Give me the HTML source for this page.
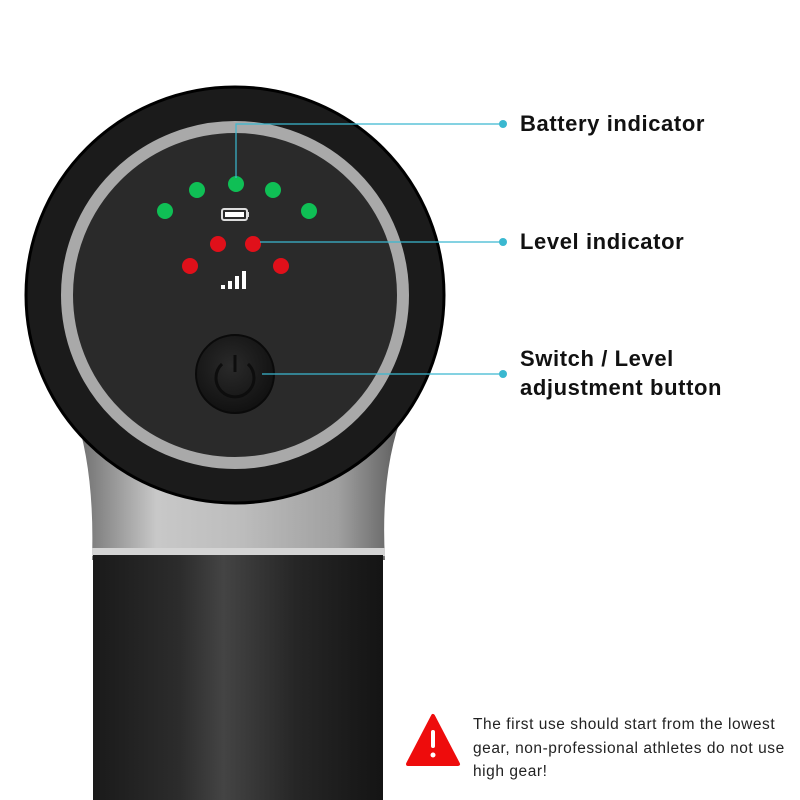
<!DOCTYPE html>
<html><head><style>
body{margin:0;width:800px;height:800px;background:#fff;overflow:hidden;position:relative;font-family:"Liberation Sans",sans-serif}
.lbl{position:absolute;left:520px;font-weight:bold;font-size:22px;letter-spacing:0.6px;color:#111;line-height:29px}
.note{position:absolute;left:473px;top:713px;font-size:15.5px;letter-spacing:0.55px;color:#222;line-height:23.5px;white-space:nowrap}
</style></head><body>
<svg width="800" height="800" style="position:absolute;left:0;top:0">
<defs>
<linearGradient id="neck" x1="0" x2="1">
<stop offset="0" stop-color="#6a6a6a"/><stop offset="0.25" stop-color="#c8c8c8"/><stop offset="0.5" stop-color="#bdbdbd"/><stop offset="0.8" stop-color="#a0a0a0"/><stop offset="1" stop-color="#5a5a5a"/>
</linearGradient>
<linearGradient id="handle" x1="0" x2="1">
<stop offset="0" stop-color="#1a1a1a"/><stop offset="0.3" stop-color="#2c2c2c"/><stop offset="0.45" stop-color="#444"/><stop offset="0.7" stop-color="#262626"/><stop offset="1" stop-color="#141414"/>
</linearGradient>
<radialGradient id="btn" cx="0.45" cy="0.4" r="0.6"><stop offset="0" stop-color="#2a2a2a"/><stop offset="1" stop-color="#111"/></radialGradient>
</defs>
<path d="M74 410 Q95 470 92 560 L385 560 Q380 470 404 410 Z" fill="url(#neck)"/>
<rect x="92" y="548" width="293" height="8" fill="#d4d4d4"/>
<rect x="93" y="555" width="290" height="250" fill="url(#handle)"/>
<ellipse cx="235" cy="295" rx="209" ry="208" fill="#1b1b1b" stroke="#000" stroke-width="3"/>
<circle cx="235" cy="295" r="168" fill="#2a2a2a" stroke="#a9a9a9" stroke-width="12"/>
<g fill="#0fbf55">
<circle cx="165" cy="211" r="8"/><circle cx="197" cy="190" r="8"/><circle cx="236" cy="184" r="8"/><circle cx="273" cy="190" r="8"/><circle cx="309" cy="211" r="8"/></g>
<g fill="#e0101a">
<circle cx="218" cy="244" r="8"/><circle cx="253" cy="244" r="8"/><circle cx="190" cy="266" r="8"/><circle cx="281" cy="266" r="8"/></g>
<rect x="222" y="209" width="25" height="11" rx="2" fill="none" stroke="#ddd" stroke-width="2"/>
<rect x="247" y="212" width="2" height="5" fill="#ddd"/>
<rect x="225" y="212" width="19" height="5" fill="#fff"/>
<g fill="#fff"><rect x="221" y="285" width="4" height="4"/><rect x="228" y="281" width="4" height="8"/><rect x="235" y="276" width="4" height="13"/><rect x="242" y="271" width="4" height="18"/></g>
<circle cx="235" cy="374" r="39" fill="url(#btn)" stroke="#0a0a0a" stroke-width="2"/>
<path d="M222 364 A19 19 0 1 0 248 364" fill="none" stroke="#0d0d0d" stroke-width="3"/>
<line x1="235" y1="355" x2="235" y2="372" stroke="#0d0d0d" stroke-width="3"/>
<g stroke="#3ab8d0" stroke-width="1.2" fill="none">
<polyline points="236,178 236,124 500,124"/>
<line x1="260" y1="242" x2="500" y2="242"/>
<line x1="262" y1="374" x2="500" y2="374"/>
</g>
<g fill="#3ab8d0"><circle cx="503" cy="124" r="4"/><circle cx="503" cy="242" r="4"/><circle cx="503" cy="374" r="4"/></g>
<path d="M433 716 L458 764 L408 764 Z" fill="#ee0c0c" stroke="#ee0c0c" stroke-width="4" stroke-linejoin="round"/>
<rect x="431" y="730" width="4" height="18" rx="2" fill="#fff"/><circle cx="433" cy="755" r="2.5" fill="#fff"/>
</svg>
<div class="lbl" style="top:109px">Battery indicator</div>
<div class="lbl" style="top:227px">Level indicator</div>
<div class="lbl" style="top:344px">Switch / Level<br>adjustment button</div>
<div class="note">The first use should start from the lowest<br>gear, non-professional athletes do not use<br>high gear!</div>
</body></html>
